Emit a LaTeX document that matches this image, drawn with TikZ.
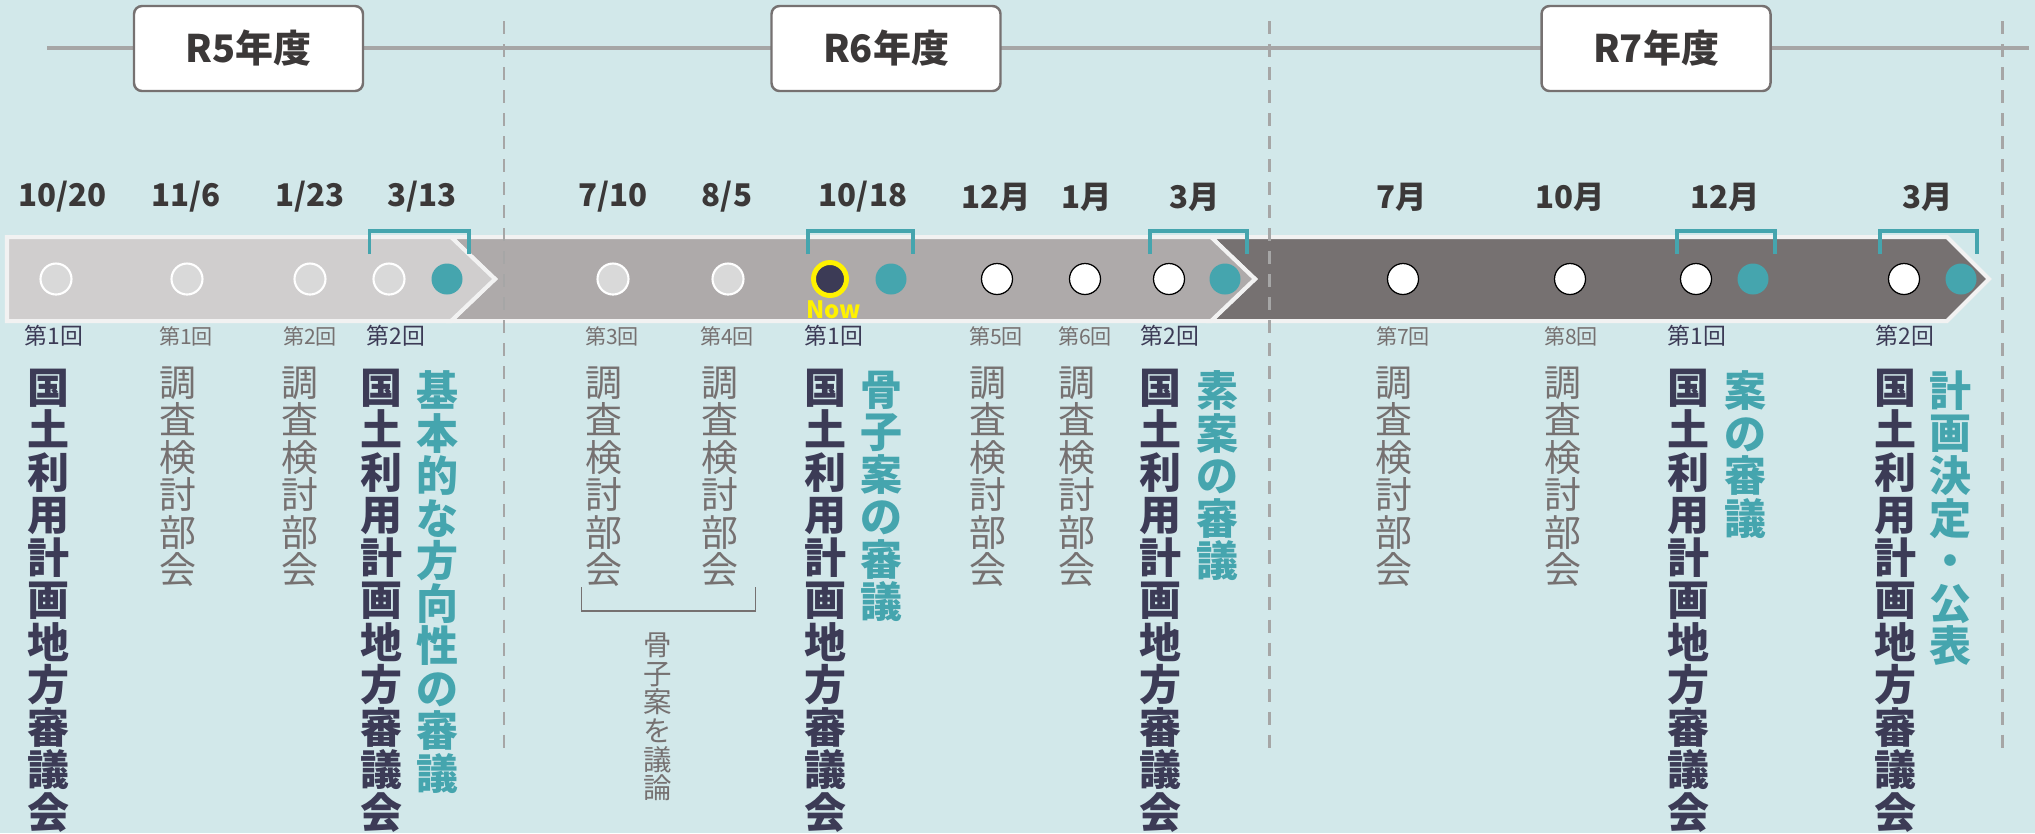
\documentclass[tikz,border=0pt]{standalone}
\usepackage{fontspec}
\setmainfont{Noto Sans CJK JP}
\usepackage{tikz}
\definecolor{bgblue}{RGB}{210,232,234}
\definecolor{tealmk}{RGB}{69,165,174}
\definecolor{navytxt}{RGB}{60,59,86}
\definecolor{graytxt}{RGB}{118,113,113}
\definecolor{datetxt}{RGB}{59,56,56}
\definecolor{segA}{RGB}{208,206,206}
\definecolor{segB}{RGB}{174,170,170}
\definecolor{segC}{RGB}{118,113,113}
\definecolor{ptgray}{RGB}{217,217,217}
\definecolor{edgew}{RGB}{242,242,242}
\definecolor{lineg}{RGB}{166,166,166}
\newcommand{\meetpt}[4][]{\node[circle,inner sep=0pt,minimum size=0.31cm,#1] at (#2) (#3) {#4}}
\newcommand{\kokudo}{国\\土\\利\\用\\計\\画\\地\\方\\審\\議\\会}
\newcommand{\chousa}{調\\査\\検\\討\\部\\会}

\begin{document}
\begin{tikzpicture}[
	year/.style={draw=graytxt, line width=0.7pt, fill=white, rounded corners=0.08cm, minimum width=2.29cm, minimum height=0.85cm, text=datetxt, font=\fontsize{10.8}{12}\selectfont\bfseries},
	date/.style={text=datetxt, font=\fontsize{8.9}{10}\selectfont\bfseries},
	oldpt/.style={fill=ptgray, draw=white, line width=0.6pt},
	newpt/.style={fill=white, draw=black, line width=0.35pt},
	keypt/.style={fill=tealmk},
	nowpt/.style={fill=navytxt, draw=yellow, line width=1.4pt, minimum size=0.33cm},
	bkt/.style={draw=tealmk, line width=1pt},
	kcol/.style={anchor=north, align=center, inner sep=0pt, text=navytxt, font=\fontsize{11.95}{12.1}\selectfont\bfseries},
	tcol/.style={kcol, text=tealmk},
	ccol/.style={anchor=north, align=center, inner sep=0pt, text=graytxt, font=\fontsize{10.5}{10.64}\selectfont},
	nlab/.style={text=navytxt, font=\fontsize{6.5}{7}\selectfont},
	glab/.style={text=graytxt, font=\fontsize{6}{7}\selectfont},
	seg/.style={draw=edgew, line width=1.14pt, line join=miter}
]
				\useasboundingbox (0,0) rectangle (20.35,-8.33);
				\fill[bgblue] (0,0) rectangle (20.35,-8.33);

				\coordinate (ls) at (0.47,-0.48);
				\coordinate (le) at (20.29,-0.48);
				\draw[lineg, line width=1.14pt] (ls) -- (le);

				\node[year] (r5) at (2.485,-0.485) {R5年度};
				\node[year] (r6) at (8.86,-0.485) {R6年度};
				\node[year] (r7) at (16.56,-0.485) {R7年度};

				\fill[segC, seg] (12.11,-2.37) -- (19.47,-2.37) -- (19.89,-2.79) -- (19.47,-3.21) -- (12.11,-3.21) -- (12.55,-2.79) -- cycle;
				\fill[segB, seg] (4.51,-2.37) -- (12.11,-2.37) -- (12.55,-2.79) -- (12.11,-3.21) -- (4.51,-3.21) -- (4.95,-2.79) -- cycle;
				\fill[segA, seg] (0.07,-2.37) -- (4.51,-2.37) -- (4.95,-2.79) -- (4.51,-3.21) -- (0.07,-3.21) -- cycle;

				\foreach \x in {5.04,12.69,20.02}
					\draw[lineg, line width=0.85pt, dash pattern=on 3.7pt off 2.85pt] (\x,-0.21) -- (\x,-7.57);

				\node[date] at (0.625,-1.97) {10/20};
				\node[date] at (1.86,-1.97) {11/6};
				\node[date] at (3.10,-1.97) {1/23};
				\node[date] at (4.22,-1.97) {3/13};
				\node[date] at (6.13,-1.97) {7/10};
				\node[date] at (7.27,-1.97) {8/5};
				\node[date] at (8.63,-1.97) {10/18};
				\node[date] at (9.96,-1.97) {12月};
				\node[date] at (10.87,-1.97) {1月};
				\node[date] at (11.95,-1.97) {3月};
				\node[date] at (14.02,-1.97) {7月};
				\node[date] at (15.70,-1.97) {10月};
				\node[date] at (17.25,-1.97) {12月};
				\node[date] at (19.28,-1.97) {3月};

				\meetpt[oldpt]{0.56,-2.79}{k1}{};
				\meetpt[oldpt]{1.87,-2.79}{b1}{};
				\meetpt[oldpt]{3.10,-2.79}{b2}{};
				\meetpt[oldpt]{3.89,-2.79}{k2}{};
				\meetpt[keypt]{4.47,-2.79}{k2t}{};

				\meetpt[oldpt]{6.13,-2.79}{b3}{};
				\meetpt[oldpt]{7.28,-2.79}{b4}{};
				\meetpt[nowpt]{8.30,-2.79}{k3}{};
				\meetpt[keypt]{8.91,-2.79}{k3t}{};
				\meetpt[newpt]{9.97,-2.79}{b5}{};
				\meetpt[newpt]{10.85,-2.79}{b6}{};
				\meetpt[newpt]{11.69,-2.79}{k4}{};
				\meetpt[keypt]{12.25,-2.79}{k4t}{};

				\meetpt[newpt]{14.03,-2.79}{b7}{};
				\meetpt[newpt]{15.70,-2.79}{b8}{};
				\meetpt[newpt]{16.96,-2.79}{k5}{};
				\meetpt[keypt]{17.53,-2.79}{k5t}{};
				\meetpt[newpt]{19.04,-2.79}{k6}{};
				\meetpt[keypt]{19.61,-2.79}{k6t}{};

				\node[text=yellow, font=\fontsize{6.8}{7}\selectfont\bfseries] (now) at (8.34,-3.10) {Now};

				\draw[bkt] ([xshift=-0.03cm,yshift=0.25cm]k2.west) |- ([xshift=0.06cm,yshift=0.48cm]k2t.east) -- ([xshift=0.06cm,yshift=0.25cm]k2t.east);
				\draw[bkt] ([xshift=-0.03cm,yshift=0.25cm]k3.west) |- ([xshift=0.06cm,yshift=0.48cm]k3t.east) -- ([xshift=0.06cm,yshift=0.25cm]k3t.east);
				\draw[bkt] ([xshift=-0.03cm,yshift=0.25cm]k4.west) |- ([xshift=0.06cm,yshift=0.48cm]k4t.east) -- ([xshift=0.06cm,yshift=0.25cm]k4t.east);
				\draw[bkt] ([xshift=-0.03cm,yshift=0.25cm]k5.west) |- ([xshift=0.06cm,yshift=0.48cm]k5t.east) -- ([xshift=0.06cm,yshift=0.25cm]k5t.east);
				\draw[bkt] ([xshift=-0.08cm,yshift=0.25cm]k6.west) |- ([xshift=0.0cm,yshift=0.48cm]k6t.east) -- ([xshift=0.0cm,yshift=0.25cm]k6t.east);

				\node[nlab] (n1) at (0.54,-3.36) {第1回};
				\node[glab] (g1) at (1.86,-3.36) {第1回};
				\node[glab] (g2) at (3.10,-3.36) {第2回};
				\node[nlab] (n2) at (3.96,-3.36) {第2回};
				\node[glab] (g3) at (6.12,-3.36) {第3回};
				\node[glab] (g4) at (7.27,-3.36) {第4回};
				\node[nlab] (n3) at (8.34,-3.36) {第1回};
				\node[glab] (g5) at (9.96,-3.36) {第5回};
				\node[glab] (g6) at (10.85,-3.36) {第6回};
				\node[nlab] (n4) at (11.70,-3.36) {第2回};
				\node[glab] (g7) at (14.03,-3.36) {第7回};
				\node[glab] (g8) at (15.71,-3.36) {第8回};
				\node[nlab] (n5) at (16.97,-3.36) {第1回};
				\node[nlab] (n6) at (19.05,-3.36) {第2回};

				\node[kcol] (kk1) at (0.48,-3.68) {\kokudo};
				\node[kcol] (kk2) at (3.81,-3.68) {\kokudo};
				\node[kcol] (kk3) at (8.25,-3.68) {\kokudo};
				\node[kcol] (kk4) at (11.60,-3.68) {\kokudo};
				\node[kcol] (kk5) at (16.88,-3.68) {\kokudo};
				\node[kcol] (kk6) at (18.95,-3.68) {\kokudo};

				\node[tcol] (tt2) at (4.37,-3.70) {基\\本\\的\\な\\方\\向\\性\\の\\審\\議};
				\node[tcol] (tt3) at (8.81,-3.70) {骨\\子\\案\\の\\審\\議};
				\node[tcol] (tt4) at (12.17,-3.70) {素\\案\\の\\審\\議};
				\node[tcol] (tt5) at (17.45,-3.70) {案\\の\\審\\議};
				\node[tcol] (tt6) at (19.50,-3.70) {計\\画\\決\\定\\・\\公\\表};

				\node[ccol] (cs1) at (1.78,-3.66) {\chousa};
				\node[ccol] (cs2) at (3.00,-3.66) {\chousa};
				\node[ccol] (cs3) at (6.04,-3.66) {\chousa};
				\node[ccol] (cs4) at (7.20,-3.66) {\chousa};
				\node[ccol] (cs5) at (9.88,-3.66) {\chousa};
				\node[ccol] (cs6) at (10.77,-3.66) {\chousa};
				\node[ccol] (cs7) at (13.94,-3.66) {\chousa};
				\node[ccol] (cs8) at (15.63,-3.66) {\chousa};

				\draw[graytxt, line width=0.45pt] ([xshift=-0.035cm]cs3.south west) |- ([xshift=0.165cm,yshift=-0.24cm]cs4.south east) -- ([xshift=0.165cm]cs4.south east);
				\node[ccol, font=\fontsize{8.1}{8.17}\selectfont] (kossi) at (6.58,-6.32) {骨\\子\\案\\を\\議\\論};

\end{tikzpicture}
\end{document}
